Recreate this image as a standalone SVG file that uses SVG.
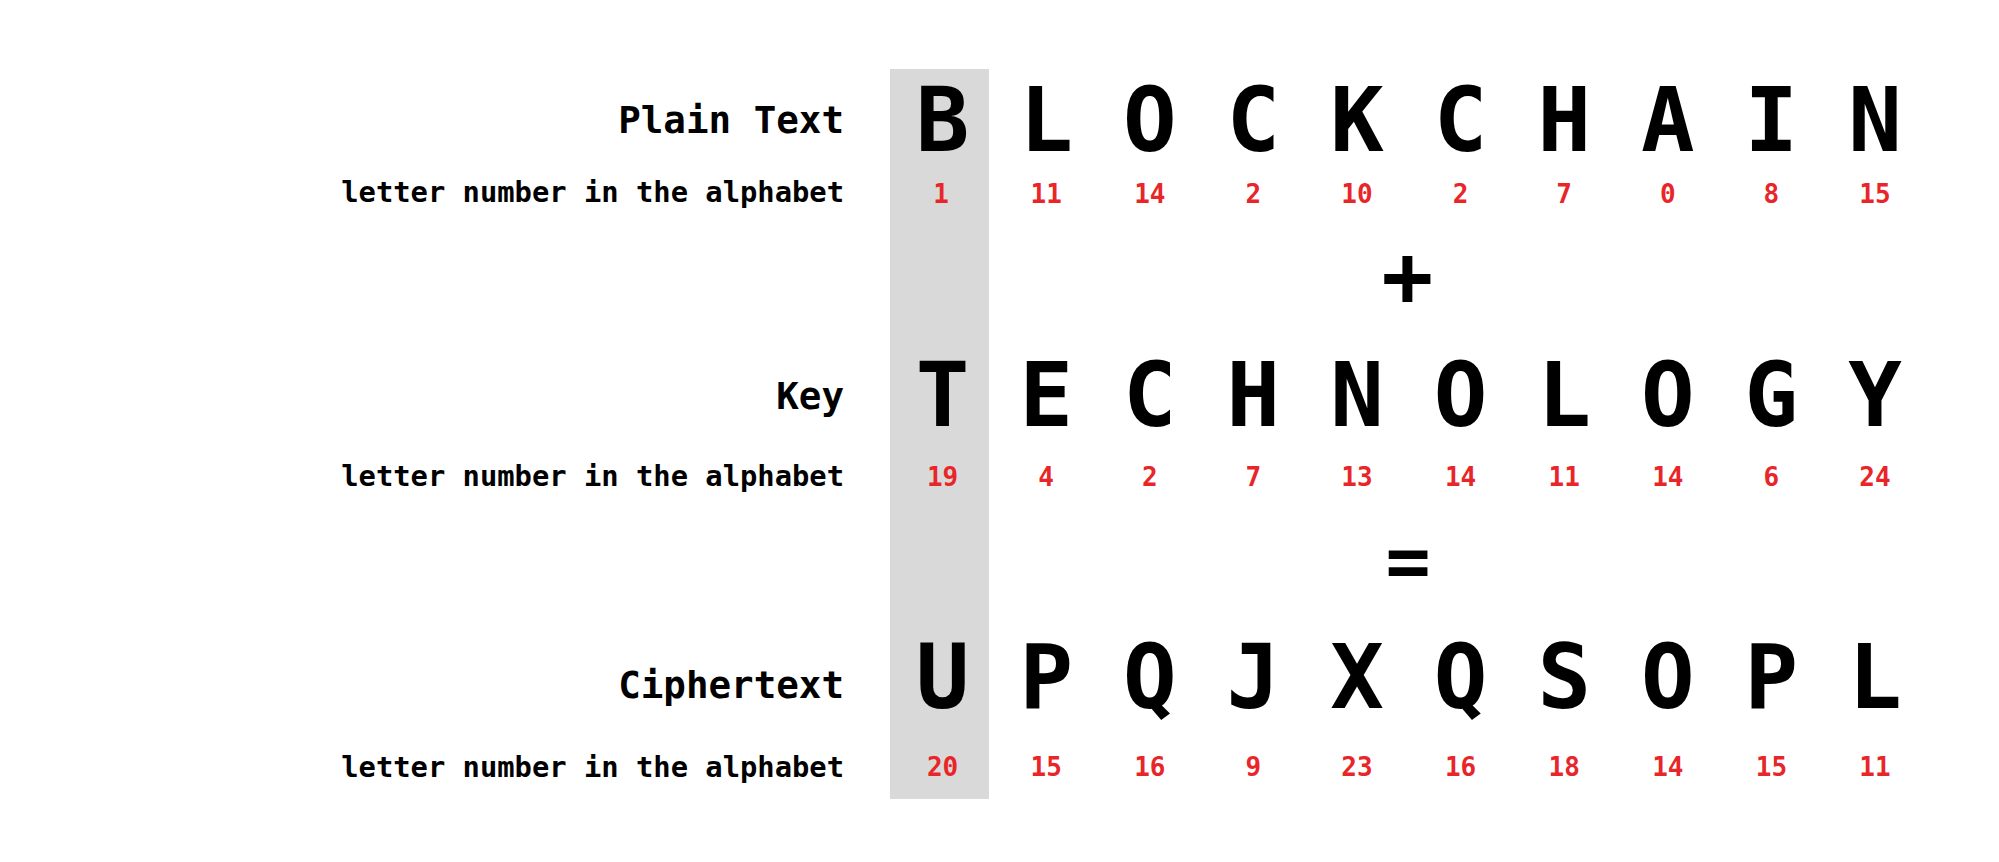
<svg xmlns="http://www.w3.org/2000/svg" width="1999" height="862" viewBox="0 0 1999 862">
<style>
text{font-family:"DejaVu Sans Mono","Liberation Mono",monospace;font-weight:bold}
.lab{font-size:37.5px;text-anchor:end;fill:#000}
.sub{font-size:28.8px;text-anchor:end;fill:#000}
.big{font-size:89px;text-anchor:middle;fill:#000}
.num{font-size:26px;text-anchor:middle;fill:#e8262a}
.op{font-size:86px;text-anchor:middle;fill:#000}
.eq{font-size:75px;text-anchor:middle;fill:#000}
</style>
<rect width="1999" height="862" fill="#fff"/>
<g id="highlight"><rect x="890" y="69" width="99" height="730" fill="#d9d9d9"/></g>
<g id="labels">
<text class="lab" x="844" y="133">Plain Text</text>
<text class="sub" x="844" y="202">letter number in the alphabet</text>
<text class="lab" x="844" y="409">Key</text>
<text class="sub" x="844" y="486">letter number in the alphabet</text>
<text class="lab" x="844" y="698">Ciphertext</text>
<text class="sub" x="844" y="777">letter number in the alphabet</text>
</g>
<g id="plaintext">
<text class="big" y="151"><tspan x="942.6">B</tspan><tspan x="1046.2">L</tspan><tspan x="1149.8">O</tspan><tspan x="1253.4">C</tspan><tspan x="1357">K</tspan><tspan x="1460.6">C</tspan><tspan x="1564.2">H</tspan><tspan x="1667.8">A</tspan><tspan x="1771.4">I</tspan><tspan x="1875">N</tspan></text>
<text class="num" y="203"><tspan x="941">1</tspan><tspan x="1046.2">11</tspan><tspan x="1149.8">14</tspan><tspan x="1253.4">2</tspan><tspan x="1357">10</tspan><tspan x="1460.6">2</tspan><tspan x="1564.2">7</tspan><tspan x="1667.8">0</tspan><tspan x="1771.4">8</tspan><tspan x="1875">15</tspan></text>
</g>
<g id="plus"><text class="op" x="1407.5" y="306">+</text></g>
<g id="key">
<text class="big" y="426"><tspan x="942.6">T</tspan><tspan x="1046.2">E</tspan><tspan x="1149.8">C</tspan><tspan x="1253.4">H</tspan><tspan x="1357">N</tspan><tspan x="1460.6">O</tspan><tspan x="1564.2">L</tspan><tspan x="1667.8">O</tspan><tspan x="1771.4">G</tspan><tspan x="1875">Y</tspan></text>
<text class="num" y="486"><tspan x="942.6">19</tspan><tspan x="1046.2">4</tspan><tspan x="1149.8">2</tspan><tspan x="1253.4">7</tspan><tspan x="1357">13</tspan><tspan x="1460.6">14</tspan><tspan x="1564.2">11</tspan><tspan x="1667.8">14</tspan><tspan x="1771.4">6</tspan><tspan x="1875">24</tspan></text>
</g>
<g id="equals"><text class="eq" x="1408" y="587">=</text></g>
<g id="ciphertext">
<text class="big" y="708"><tspan x="942.6">U</tspan><tspan x="1046.2">P</tspan><tspan x="1149.8">Q</tspan><tspan x="1253.4">J</tspan><tspan x="1357">X</tspan><tspan x="1460.6">Q</tspan><tspan x="1564.2">S</tspan><tspan x="1667.8">O</tspan><tspan x="1771.4">P</tspan><tspan x="1875">L</tspan></text>
<text class="num" y="776"><tspan x="942.6">20</tspan><tspan x="1046.2">15</tspan><tspan x="1149.8">16</tspan><tspan x="1253.4">9</tspan><tspan x="1357">23</tspan><tspan x="1460.6">16</tspan><tspan x="1564.2">18</tspan><tspan x="1667.8">14</tspan><tspan x="1771.4">15</tspan><tspan x="1875">11</tspan></text>
</g>
</svg>
